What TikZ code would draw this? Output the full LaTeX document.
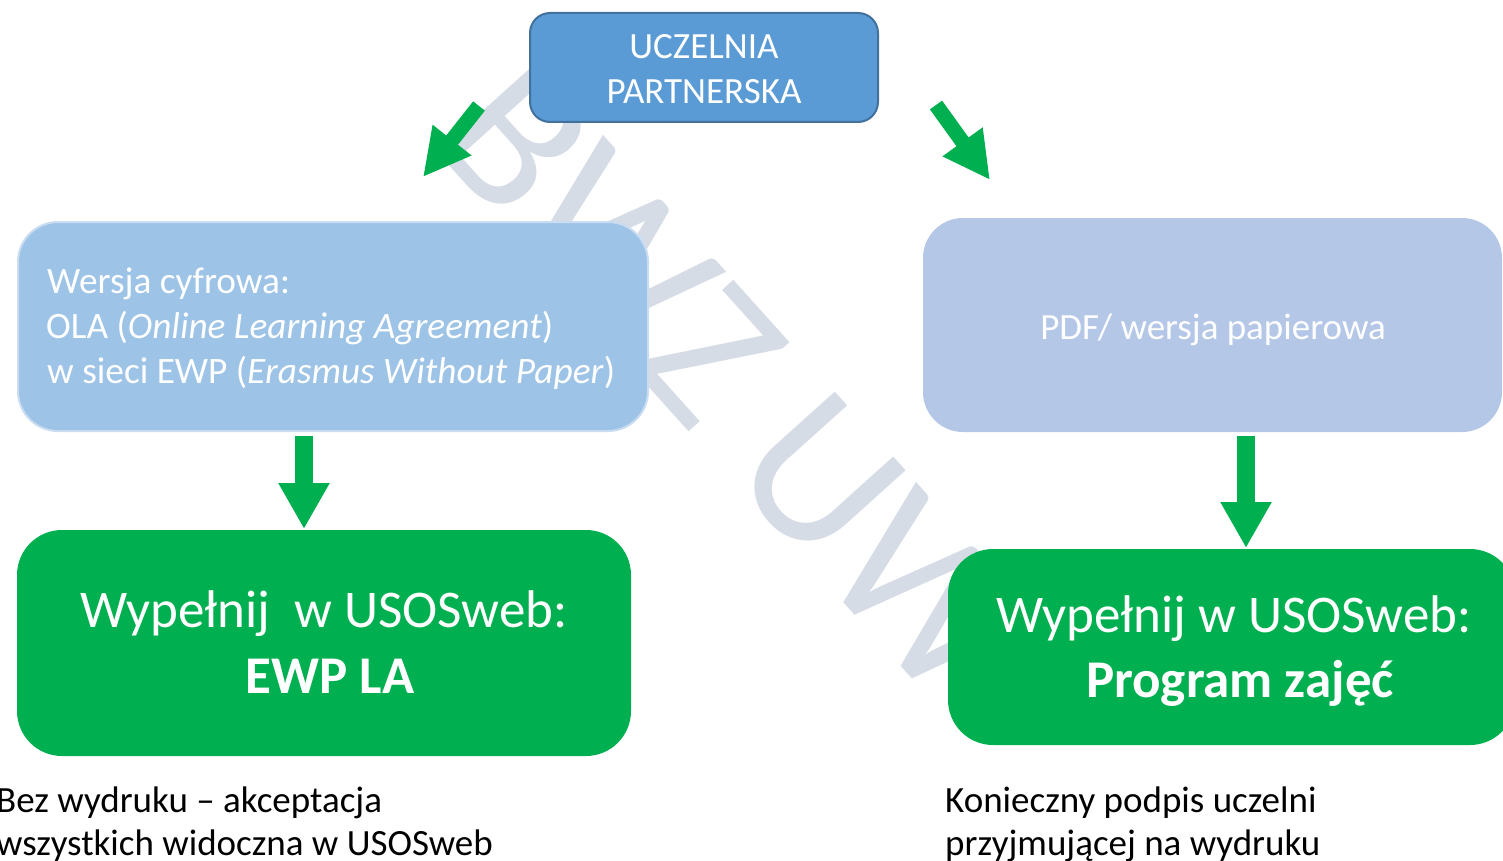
\documentclass[tikz,border=0pt]{standalone}
\usepackage{fontspec}
\setmainfont{Carlito}
\usetikzlibrary{arrows.meta}
\definecolor{topblue}{HTML}{5B9BD5}
\definecolor{topborder}{HTML}{41719C}
\definecolor{lblue}{HTML}{9DC3E6}
\definecolor{lblueborder}{HTML}{C9DCF2}
\definecolor{rblue}{HTML}{B4C7E7}
\definecolor{grn}{HTML}{00B050}
\definecolor{wm}{HTML}{D6DCE5}
\begin{document}
\begin{tikzpicture}[x=1pt,y=-1pt,
  box/.style={rectangle,inner sep=0pt,outer sep=0pt},
  wtext/.style={inner sep=0pt,text=white},
  btext/.style={inner sep=0pt,text=black,anchor=base west,font=\fontsize{37}{43}\selectfont},
  garrow/.style={draw=grn,line cap=butt},
  vshaft/.style={garrow,line width=18pt,-{Triangle[width=48pt,length=46pt]}},
  dshaft/.style={garrow,line width=15pt,-{Triangle[width=46pt,length=47pt]}}]
\useasboundingbox (0,0) rectangle (1503,861);
% watermark
\node[rotate=-48,anchor=base,inner sep=0pt,text=wm,font=\fontsize{210}{210}\selectfont] (wmark) at (684,426) {BWZ UW};
% boxes
\node[box,fill=topblue,draw=topborder,line width=2pt,rounded corners=20pt,minimum width=348pt,minimum height=109pt] (top) at (704,67.5) {};
\node[box,fill=lblue,draw=lblueborder,line width=2pt,rounded corners=40pt,minimum width=630pt,minimum height=209pt] (lbox) at (333,326.5) {};
\node[box,fill=rblue,rounded corners=40pt,minimum width=579pt,minimum height=214pt] (rbox) at (1212.5,325) {};
\node[box,fill=grn,rounded corners=45pt,minimum width=614pt,minimum height=226pt] (lgreen) at (324,643) {};
\node[box,fill=grn,rounded corners=45pt,minimum width=567pt,minimum height=196pt] (rgreen) at (1231.5,647) {};
% texts
\node[wtext,anchor=base,font=\fontsize{37}{45}\selectfont] (t1) at (704,59) {UCZELNIA};
\node[wtext,anchor=base,font=\fontsize{37}{45}\selectfont] (t2) at (704,104) {PARTNERSKA};
\node[wtext,anchor=base west,font=\fontsize{37.3}{45}\selectfont] (l1) at (47,293) {Wersja cyfrowa:};
\node[wtext,anchor=base west,font=\fontsize{37.3}{45}\selectfont] (l2) at (46,338) {OLA (\textit{Online Learning Agreement})};
\node[wtext,anchor=base west,font=\fontsize{37.3}{45}\selectfont] (l3) at (47,383) {w sieci EWP (\textit{Erasmus Without Paper})};
\node[wtext,anchor=base,font=\fontsize{37}{45}\selectfont] (r1) at (1213,339) {PDF/ wersja papierowa};
\node[wtext,anchor=base,font=\fontsize{53}{62}\selectfont] (g1) at (324,627) {Wypełnij\ \ w USOSweb:};
\node[wtext,anchor=base,font=\fontsize{53}{62}\selectfont\bfseries] (g2) at (330,693) {EWP LA};
\node[wtext,anchor=base,font=\fontsize{53}{62}\selectfont] (g3) at (1234,632) {Wypełnij w USOSweb:};
\node[wtext,anchor=base,font=\fontsize{53}{62}\selectfont\bfseries] (g4) at (1240,697) {Program zajęć};
\node[btext] (b1) at (-4,812) {Bez wydruku – akceptacja};
\node[btext] (b2) at (-4,855) {wszystkich widoczna w USOSweb};
\node[btext] (b3) at (945,812) {Konieczny podpis uczelni};
\node[btext] (b4) at (945,855) {przyjmującej na wydruku};
% arrows
\coordinate (a1s) at (479,106); \coordinate (a1e) at (423,177);
\coordinate (a2s) at (936,105); \coordinate (a2e) at (990,180);
\coordinate (a3s) at (304,436); \coordinate (a3e) at (304,529);
\coordinate (a4s) at (1246,436); \coordinate (a4e) at (1246,548);
\draw[dshaft] (a1s) -- (a1e);
\draw[dshaft] (a2s) -- (a2e);
\draw[vshaft] (a3s) -- (a3e);
\draw[vshaft] (a4s) -- (a4e);
\end{tikzpicture}
\end{document}
